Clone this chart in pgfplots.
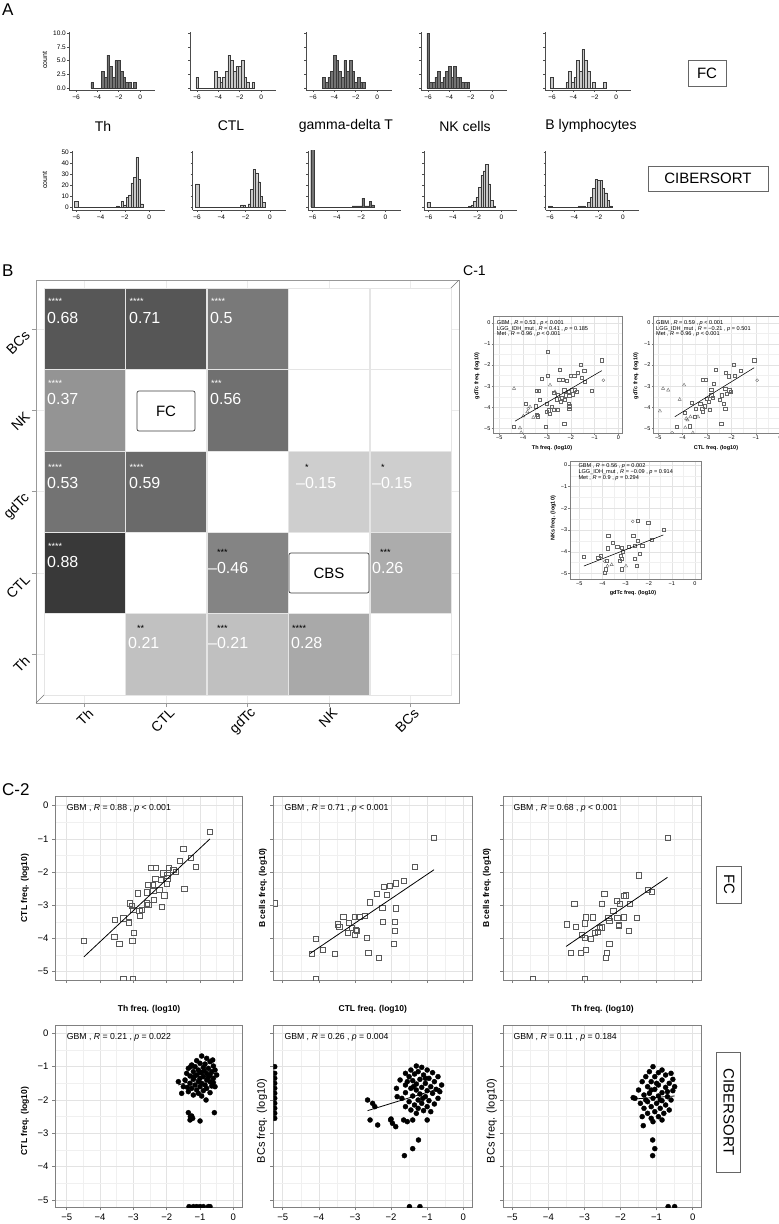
\documentclass[border=0pt]{standalone}
\usepackage{fontspec}
\setmainfont{Liberation Sans}
\usepackage{pgfplots}
\pgfplotsset{compat=1.18}
\newcommand{\fs}[1]{\fontsize{#1}{#1}\selectfont}
\definecolor{hdark}{HTML}{747474}
\definecolor{hlight}{HTML}{C9C9C9}
\definecolor{hedge}{HTML}{3A3A3A}
\pgfplotsset{
 hist/.style={scale only axis, anchor=north west, axis lines=left,
   axis line style={-, black!70, line width=0.6pt}, tick align=outside,
   major tick length=2pt, tick style={black!70, line width=0.5pt},
   xtick={-6,-4,-2,0}, xticklabels={−6,−4,−2,0},
   xticklabel style={font=\fs{6.5}, inner sep=1pt, yshift=-1.5pt},
   yticklabel style={font=\fs{6.5}, inner sep=1pt}, yticklabels={}},
 histA/.style={hist, width=86pt, height=58pt, xmin=-6.66, xmax=1.4, ymin=-0.35, ymax=10.2, ytick={0,2.5,5,7.5,10}},
 histB/.style={hist, width=93pt, height=59.3pt, xmin=-6.35, xmax=1.3, ymin=-2.7, ymax=51.2, ytick={0,10,20,30,40,50}},
 hbar/.style={ybar interval, draw=hedge, line width=0.45pt, mark=none},
 sc/.style={scale only axis, anchor=north west, axis line style={black!50, line width=0.8pt},
   tick align=outside, major tick length=3pt, tick style={black!50, line width=0.6pt}, tick pos=left,
   xtick={-5,-4,-3,-2,-1,0}, ytick={-5,-4,-3,-2,-1,0},
   minor xtick={-4.5,-3.5,-2.5,-1.5,-0.5}, minor ytick={-4.5,-3.5,-2.5,-1.5,-0.5},
   minor tick length=0pt, grid=both, major grid style={black!11, line width=0.5pt},
   minor grid style={black!6, line width=0.4pt}, xticklabels={}, yticklabels={},
   clip marker paths=true, ticklabel style={font=\fs{9.5}}},
 lab/.style={xticklabels={−5,−4,−3,−2,−1,0}},
 laby/.style={yticklabels={−5,−4,−3,−2,−1,0}},
 c1/.style={sc, axis line style={black!50, line width=0.5pt}, major tick length=1.6pt,
   tick style={black!50, line width=0.4pt}, ticklabel style={font=\fs{5.5}, inner sep=1pt},
   major grid style={black!11, line width=0.35pt}, minor grid style={black!6, line width=0.3pt},
   lab, laby},
 sq/.style={only marks, mark=square, mark size=2.6pt, mark options={draw=black!65, line width=0.6pt}},
 dot/.style={only marks, mark=*, mark size=2.5pt, mark options={draw=black, fill=black}},
 sqs/.style={only marks, mark=square, mark size=1.6pt, mark options={draw=black!60, line width=0.35pt}},
 tri/.style={only marks, mark=triangle, mark size=1.9pt, mark options={draw=black!60, line width=0.35pt}},
 cir/.style={only marks, mark=o, mark size=1.5pt, mark options={draw=black!60, line width=0.35pt}},
 reg/.style={black, line width=0.8pt, mark=none},
 regs/.style={black, line width=0.55pt, mark=none},
}
\begin{document}
\begin{tikzpicture}
\path[use as bounding box] (0,0) rectangle (779pt,-1224pt);
% ================= PANEL A =================
\node[anchor=north west, inner sep=0pt] at (2pt,-4pt) {\fs{17}A};
\node[rotate=90, font=\fs{7}] at (45pt,-60pt) {count};
\node[rotate=90, font=\fs{7}] at (45pt,-180pt) {count};
% row 1 (FC)
\begin{axis}[histA, at={(69pt,-32pt)}, yticklabels={0.0,2.5,5.0,7.5,10.0}]
\addplot[hbar, fill=hdark] coordinates {(-4.6,1) (-4.35,0) (-3.6,3) (-3.35,2) (-3.1,6) (-2.85,4) (-2.6,2) (-2.35,5) (-2.1,5) (-1.85,3) (-1.6,2) (-1.35,1) (-1.1,1) (-0.85,0) (-0.6,1) (-0.35,1)};
\end{axis}
\begin{axis}[histA, at={(190pt,-32pt)}]
\addplot[hbar, fill=hlight] coordinates {(-6.1,2) (-5.85,0) (-4.35,3) (-4.1,2) (-3.85,1) (-3.6,2) (-3.35,3) (-3.1,6) (-2.85,5) (-2.6,3) (-2.35,4) (-2.1,4) (-1.85,5) (-1.6,2) (-1.35,1) (-1.1,0) (-0.85,1) (-0.6,1)};
\end{axis}
\begin{axis}[histA, at={(306pt,-32pt)}]
\addplot[hbar, fill=hdark] coordinates {(-5.1,2) (-4.85,1) (-4.6,2) (-4.35,3) (-4.1,6) (-3.85,5) (-3.6,3) (-3.35,2) (-3.1,5) (-2.85,3) (-2.6,5) (-2.35,3) (-2.1,1) (-1.85,2) (-1.6,1) (-1.35,1) (-1.1,1)};
\end{axis}
\begin{axis}[histA, at={(421pt,-32pt)}]
\addplot[hbar, fill=hdark] coordinates {(-6.1,10) (-5.85,1) (-5.6,1) (-5.35,2) (-5.1,3) (-4.85,1) (-4.6,2) (-4.35,3) (-4.1,4) (-3.85,2) (-3.6,4) (-3.35,2) (-3.1,2) (-2.85,1) (-2.6,1) (-2.35,1) (-2.1,1)};
\end{axis}
\begin{axis}[histA, at={(545pt,-32pt)}]
\addplot[hbar, fill=hlight] coordinates {(-6.15,2) (-5.9,0) (-4.7,1) (-4.45,3) (-4.2,1) (-3.95,2) (-3.7,5) (-3.45,3) (-3.2,7) (-2.95,5) (-2.7,3) (-2.45,0) (-2.2,1) (-1.95,0) (-1.2,1) (-0.95,1)};
\end{axis}
\node[font=\fs{14}] at (103pt,-126pt) {Th};
\node[font=\fs{14}] at (231pt,-126pt) {CTL};
\node[font=\fs{14}] at (346pt,-126pt) {gamma-delta T};
\node[font=\fs{14}] at (465pt,-126pt) {NK cells};
\node[font=\fs{14}] at (591pt,-126pt) {B lymphocytes};
\node[draw=black!60, line width=0.6pt, minimum width=38pt, minimum height=26pt, inner sep=0pt] at (707pt,-73pt) {\fs{15}FC};
% row 2 (CIBERSORT)
\begin{axis}[histB, at={(72pt,-150.7pt)}, yticklabels={0,10,20,30,40,50}]
\addplot[hbar, fill=hlight] coordinates {(-6.15,5) (-5.85,0) (-2.7,1) (-2.5,0) (-2.3,5) (-2.1,2) (-1.9,9) (-1.7,11) (-1.5,22) (-1.3,27) (-1.1,45) (-0.9,25) (-0.7,3) (-0.5,3)};
\end{axis}
\begin{axis}[histB, at={(192.7pt,-150.7pt)}]
\addplot[hbar, fill=hlight] coordinates {(-6.15,21) (-5.85,0) (-2.4,2) (-2.2,2) (-2.0,0) (-1.8,3) (-1.6,16) (-1.4,34) (-1.2,31) (-1.0,23) (-0.8,10) (-0.6,4) (-0.4,4)};
\end{axis}
\begin{axis}[histB, at={(308.3pt,-150.7pt)}]
\addplot[hbar, fill=hdark] coordinates {(-6.15,60) (-5.85,0) (-2.75,1) (-2.55,1) (-2.35,1) (-2.15,1) (-1.95,8) (-1.75,1) (-1.55,1) (-1.35,5) (-1.15,2) (-0.95,2)};
\end{axis}
\begin{axis}[histB, at={(424.3pt,-150.7pt)}]
\addplot[hbar, fill=hlight] coordinates {(-6.15,4) (-5.85,0) (-2.7,1) (-2.5,2) (-2.3,5) (-2.1,9) (-1.9,18) (-1.7,29) (-1.5,33) (-1.3,39) (-1.1,21) (-0.9,6) (-0.7,1) (-0.5,1)};
\end{axis}
\begin{axis}[histB, at={(545.7pt,-150.7pt)}]
\addplot[hbar, fill=hlight] coordinates {(-6.15,1) (-5.85,0) (-3.7,1) (-3.5,1) (-3.3,1) (-3.1,0) (-2.9,4) (-2.7,9) (-2.5,17) (-2.3,25) (-2.1,24) (-1.9,24) (-1.7,17) (-1.5,13) (-1.3,6) (-1.1,1) (-0.9,1)};
\end{axis}
\node[draw=black!60, line width=0.6pt, minimum width=120pt, minimum height=25pt, inner sep=0pt] at (708pt,-178.5pt) {\fs{15}CIBERSORT};
% ================= PANEL B =================
\node[anchor=north west, inner sep=0pt] at (2pt,-265pt) {\fs{17}B};
\begin{axis}[at={(36pt,-280pt)}, anchor=north west, scale only axis, width=423pt, height=423pt,
 xmin=0.402, xmax=5.598, ymin=0.4, ymax=5.6,
 axis line style={black!40, line width=0.9pt},
 xtick={1,2,3,4,5}, ytick={1,2,3,4,5},
 xticklabels={Th,CTL,gdTc,NK,BCs}, yticklabels={Th,CTL,gdTc,NK,BCs},
 tick align=outside, major tick length=4pt, tick style={black!40, line width=0.6pt}, tick pos=left,
 xmajorgrids, ymajorgrids, grid style={black!8, line width=0.6pt},
 colormap={bw}{color=(white) color=(black)}, point meta min=0, point meta max=1,
 xticklabel style={font=\fs{14}, rotate=45, anchor=east, xshift=5pt, yshift=-7pt},
 yticklabel style={font=\fs{14}, rotate=45, anchor=east, xshift=-3pt}]
\addplot[scatter, only marks, mark=square*, mark size=40.6pt,
  scatter/use mapped color={draw=black!10, fill=mapped color}, point meta=explicit]
  table[meta=d] {
x y d
1 5 0.655
2 5 0.66
3 5 0.52
4 5 0
5 5 0
1 4 0.415
2 4 0
3 4 0.555
4 4 0
5 4 0
1 3 0.545
2 3 0.58
3 3 0
4 3 0.19
5 3 0.19
1 2 0.77
2 2 0
3 2 0.48
4 2 0
5 2 0.325
1 1 0
2 1 0.24
3 1 0.245
4 1 0.335
5 1 0
};
\addplot[black!55, line width=0.6pt] coordinates {(0.402,0.4) (5.598,5.6)};
\end{axis}
\begin{scope}[every node/.style={anchor=west, inner sep=0pt}]
\node[text=white, font=\fs{9}] at (48pt,-301pt) {****};
\node[text=white, font=\fs{16}] at (47pt,-318pt) {0.68};
\node[text=white, font=\fs{9}] at (129.5pt,-301pt) {****};
\node[text=white, font=\fs{16}] at (129pt,-318pt) {0.71};
\node[text=white, font=\fs{9}] at (211pt,-301pt) {****};
\node[text=white, font=\fs{16}] at (210pt,-318pt) {0.5};
\node[text=white, font=\fs{9}] at (48pt,-383pt) {****};
\node[text=white, font=\fs{16}] at (47pt,-399pt) {0.37};
\node[text=white, font=\fs{9}] at (211pt,-383pt) {***};
\node[text=white, font=\fs{16}] at (210pt,-399pt) {0.56};
\node[text=white, font=\fs{9}] at (48pt,-467pt) {****};
\node[text=white, font=\fs{16}] at (47pt,-483pt) {0.53};
\node[text=white, font=\fs{9}] at (129.5pt,-467pt) {****};
\node[text=white, font=\fs{16}] at (129pt,-483pt) {0.59};
\node[text=white, font=\fs{9}] at (48pt,-546.5pt) {****};
\node[text=white, font=\fs{16}] at (47pt,-562pt) {0.88};
\node[text=black, font=\fs{9}] at (305pt,-467pt) {*};
\node[text=white, font=\fs{16}] at (296pt,-483pt) {–0.15};
\node[text=black, font=\fs{9}] at (381pt,-467pt) {*};
\node[text=white, font=\fs{16}] at (372pt,-483pt) {–0.15};
\node[text=black, font=\fs{9}] at (217pt,-552pt) {***};
\node[text=white, font=\fs{16}] at (208pt,-568pt) {–0.46};
\node[text=black, font=\fs{9}] at (380pt,-552pt) {***};
\node[text=white, font=\fs{16}] at (372pt,-568pt) {0.26};
\node[text=black, font=\fs{9}] at (137pt,-628pt) {**};
\node[text=white, font=\fs{16}] at (128pt,-643pt) {0.21};
\node[text=black, font=\fs{9}] at (217pt,-628pt) {***};
\node[text=white, font=\fs{16}] at (208pt,-643pt) {–0.21};
\node[text=black, font=\fs{9}] at (292pt,-628pt) {****};
\node[text=white, font=\fs{16}] at (291pt,-643pt) {0.28};
\end{scope}
\node[draw=black!75, line width=0.7pt, rounded corners=2pt, fill=white, minimum width=58pt, minimum height=40pt, inner sep=0pt] at (166pt,-411pt) {\fs{15}FC};
\node[draw=black!75, line width=0.7pt, rounded corners=2pt, fill=white, minimum width=80pt, minimum height=40pt, inner sep=0pt] at (329pt,-573pt) {\fs{15}CBS};
% ================= PANEL C-1 =================
\node[anchor=north west, inner sep=0pt] at (463pt,-266pt) {\fs{14}C-1};
\begin{axis}[c1, at={(493.3pt,-316pt)}, width=129.4pt, height=117pt, xmin=-5.25, xmax=0.18, ymin=-5.22, ymax=0.32]
\addplot[sqs] coordinates {(-2.97,-1.37) (-0.70,-1.77) (-1.58,-2.00) (-1.44,-2.27) (-1.99,-2.51) (-1.86,-2.51) (-1.71,-2.35) (-1.54,-2.60) (-1.40,-2.80) (-2.48,-2.24) (-2.97,-2.51) (-3.22,-2.64) (-2.49,-2.68) (-2.34,-2.68) (-2.17,-2.76) (-3.36,-3.22) (-3.43,-3.22) (-2.28,-3.19) (-2.10,-3.27) (-1.96,-3.19) (-1.82,-3.16) (-1.75,-3.27) (-1.12,-3.22) (-2.73,-3.32) (-2.56,-3.43) (-2.38,-3.54) (-2.21,-3.43) (-2.07,-3.47) (-1.92,-3.38) (-3.29,-3.63) (-2.59,-3.62) (-2.41,-3.74) (-2.24,-3.66) (-2.10,-3.82) (-2.07,-3.95) (-3.88,-3.82) (-3.46,-3.95) (-3.01,-3.82) (-2.80,-3.98) (-2.70,-4.10) (-2.56,-4.10) (-2.94,-4.14) (-2.87,-4.30) (-3.01,-4.22) (-2.07,-4.06) (-3.43,-4.37) (-3.38,-4.42) (-2.28,-4.77) (-3.04,-4.93) (-4.38,-4.93)};
\addplot[tri] coordinates {(-4.38,-3.11) (-2.87,-2.95) (-2.66,-3.27) (-3.71,-3.98) (-3.57,-4.48) (-3.99,-4.42) (-4.13,-4.98) (-4.08,-5.20) (-3.82,-4.22)};
\addplot[cir] coordinates {(-0.63,-2.72) (-3.78,-4.06)};
\addplot[regs] coordinates {(-4.34,-4.66) (-0.70,-2.27)};
\end{axis}
\begin{axis}[c1, at={(653.3pt,-316pt)}, width=129.4pt, height=117pt, xmin=-5.2, xmax=0.1, ymin=-5.22, ymax=0.32]
\addplot[sqs] coordinates {(-1.07,-1.77) (-1.92,-2.00) (-1.61,-2.27) (-2.22,-2.35) (-2.11,-2.53) (-1.88,-2.51) (-2.63,-2.21) (-3.17,-2.68) (-3.06,-2.68) (-2.72,-2.87) (-2.83,-3.16) (-2.26,-3.11) (-2.09,-3.19) (-2.20,-3.35) (-2.02,-3.27) (-2.83,-3.43) (-2.76,-3.55) (-3.03,-3.58) (-2.93,-3.74) (-2.40,-3.43) (-2.49,-3.63) (-2.33,-3.82) (-2.26,-4.06) (-2.42,-4.77) (-3.28,-3.82) (-3.20,-4.06) (-3.17,-4.22) (-3.10,-3.95) (-3.62,-3.79) (-3.47,-4.06) (-2.90,-4.10) (-3.91,-4.27) (-3.51,-4.45) (-4.25,-4.93) (-3.71,-4.90) (-5.22,-2.45) (-5.22,-2.60)};
\addplot[tri] coordinates {(-4.80,-3.11) (-4.59,-3.19) (-3.94,-2.95) (-4.12,-3.63) (-4.93,-4.18) (-3.68,-4.45) (-3.85,-4.53) (-3.37,-4.45) (-3.89,-4.96) (-3.58,-5.21) (-3.80,-4.60)};
\addplot[cir] coordinates {(-0.95,-2.72) (-4.43,-5.21)};
\addplot[regs] coordinates {(-4.32,-4.45) (-1.07,-2.13)};
\end{axis}
\begin{axis}[c1, at={(570pt,-461pt)}, width=131.7pt, height=117.8pt, xmin=-5.4, xmax=0.29, ymin=-5.25, ymax=0.18]
\addplot[sqs] coordinates {(-1.37,-2.97) (-2.02,-2.66) (-2.49,-2.57) (-2.67,-3.28) (-2.49,-3.49) (-2.59,-3.72) (-2.28,-3.72) (-2.38,-4.08) (-2.59,-4.31) (-2.53,-4.66) (-3.75,-3.28) (-3.57,-3.59) (-3.36,-3.77) (-3.17,-3.80) (-3.13,-4.00) (-3.20,-4.20) (-3.17,-4.31) (-2.88,-3.77) (-3.78,-3.84) (-3.24,-4.41) (-3.17,-4.81) (-4.18,-4.26) (-4.08,-4.20) (-3.82,-4.41) (-3.86,-4.81) (-3.89,-4.97) (-4.80,-4.23) (-1.87,-3.43) (-4.97,-5.27) (-4.46,-5.27) (-3.89,-5.27) (-3.70,-5.27) (-3.24,-5.27) (-2.78,-5.27) (-2.59,-5.27) (-2.23,-5.27)};
\addplot[tri] coordinates {(-3.78,-4.66) (-3.60,-4.60) (-2.98,-4.66)};
\addplot[cir] coordinates {(-2.69,-2.60) (-3.90,-4.45)};
\addplot[regs] coordinates {(-4.80,-4.66) (-1.37,-3.23)};
\end{axis}
\begin{scope}[every node/.style={anchor=west, inner sep=0pt, font=\fs{5.6}}]
\node at (496.7pt,-323pt) {GBM , \textit{R} = 0.53 , \textit{p} < 0.001};
\node at (496.7pt,-328.8pt) {LGG\_IDH\_mut , \textit{R} = 0.41 , \textit{p} = 0.185};
\node at (496.7pt,-334.6pt) {Met , \textit{R} = 0.96 , \textit{p} < 0.001};
\node at (656pt,-323pt) {GBM , \textit{R} = 0.59 , \textit{p} < 0.001};
\node at (656pt,-328.8pt) {LGG\_IDH\_mut , \textit{R} = −0.21 , \textit{p} = 0.501};
\node at (656pt,-334.6pt) {Met , \textit{R} = 0.96 , \textit{p} < 0.001};
\node at (578.3pt,-466.5pt) {GBM , \textit{R} = 0.56 , \textit{p} = 0.002};
\node at (578.3pt,-472.3pt) {LGG\_IDH\_mut , \textit{R} = −0.09 , \textit{p} = 0.914};
\node at (578.3pt,-478.1pt) {Met , \textit{R} = 0.9 , \textit{p} = 0.294};
\end{scope}
\begin{scope}[every node/.style={inner sep=0pt, font=\bfseries\fs{5.5}}]
\node at (552pt,-448pt) {Th freq. (log10)};
\node at (716pt,-448pt) {CTL freq. (log10)};
\node at (633pt,-592.7pt) {gdTc freq. (log10)};
\node[rotate=90] at (477pt,-376pt) {gdTc freq. (log10)};
\node[rotate=90] at (636pt,-376pt) {gdTc freq. (log10)};
\node[rotate=90] at (553.3pt,-518.3pt) {NKs freq. (log10)};
\end{scope}
% ================= PANEL C-2 =================
\node[anchor=north west, inner sep=0pt] at (2pt,-783pt) {\fs{17}C-2};
% row 1
\begin{axis}[sc, laby, at={(55pt,-796pt)}, width=187.7pt, height=184pt, xmin=-5.35, xmax=0.28, ymin=-5.25, ymax=0.29]
\addplot[sq] coordinates {(-0.70,-0.78) (-1.50,-1.31) (-1.27,-1.58) (-1.13,-1.84) (-1.60,-1.66) (-1.47,-2.51) (-2.48,-1.86) (-2.32,-1.88) (-1.94,-1.86) (-1.80,-1.92) (-2.10,-2.04) (-1.73,-2.00) (-2.34,-2.20) (-2.17,-2.24) (-1.98,-2.19) (-1.98,-2.10) (-2.55,-2.39) (-2.42,-2.39) (-2.00,-2.36) (-2.22,-2.54) (-2.86,-2.64) (-2.60,-2.61) (-2.40,-2.56) (-2.07,-2.70) (-2.38,-2.84) (-2.60,-2.94) (-3.10,-2.94) (-3.04,-3.02) (-3.00,-3.14) (-2.82,-3.16) (-2.55,-2.99) (-2.15,-3.04) (-2.75,-3.14) (-2.80,-3.32) (-3.55,-3.44) (-3.30,-3.39) (-3.14,-3.52) (-4.48,-4.07) (-3.57,-3.95) (-3.42,-4.17) (-3.03,-4.07) (-2.98,-3.84) (-3.13,-3.51) (-3.30,-5.23) (-3.02,-5.23)};
\addplot[reg] coordinates {(-4.48,-4.55) (-0.70,-1.00)};
\end{axis}
\begin{axis}[sc, at={(273.3pt,-796pt)}, width=199pt, height=184pt, xmin=-5.26, xmax=0.25, ymin=-5.25, ymax=0.29]
\addplot[sq] coordinates {(-0.81,-0.98) (-1.34,-1.84) (-1.64,-2.27) (-1.87,-2.34) (-2.19,-2.44) (-2.03,-2.42) (-2.40,-2.66) (-2.12,-2.68) (-2.58,-2.91) (-2.24,-3.08) (-1.87,-3.09) (-1.89,-3.49) (-2.72,-3.31) (-3.00,-3.34) (-2.88,-3.35) (-3.32,-3.35) (-3.18,-3.52) (-3.48,-3.57) (-3.43,-3.64) (-3.09,-3.69) (-2.95,-3.77) (-3.19,-3.84) (-2.67,-3.97) (-5.23,-2.94) (-3.00,-3.89) (-2.97,-3.74) (-2.63,-4.43) (-2.35,-4.57) (-2.23,-3.49) (-4.08,-4.01) (-3.88,-4.35) (-4.20,-4.47) (-3.55,-4.47) (-4.08,-5.23) (-1.89,-3.77) (-1.92,-4.17)};
\addplot[reg] coordinates {(-4.24,-4.45) (-0.81,-1.93)};
\end{axis}
\begin{axis}[sc, at={(503.3pt,-796pt)}, width=198.4pt, height=184pt, xmin=-5.25, xmax=0.25, ymin=-5.25, ymax=0.29]
\addplot[sq] coordinates {(-0.70,-0.98) (-1.49,-2.10) (-1.25,-2.54) (-1.14,-2.60) (-2.45,-2.66) (-2.11,-2.86) (-1.90,-2.72) (-1.85,-2.70) (-2.01,-2.96) (-1.74,-2.96) (-3.28,-2.96) (-2.52,-2.96) (-2.97,-3.36) (-2.78,-3.36) (-2.34,-3.38) (-2.09,-3.38) (-1.92,-3.36) (-1.54,-3.37) (-2.20,-3.17) (-2.31,-3.47) (-2.98,-3.54) (-3.49,-3.57) (-3.23,-3.64) (-2.57,-3.69) (-2.05,-3.61) (-1.78,-3.76) (-3.08,-3.89) (-2.98,-3.99) (-2.83,-4.01) (-2.71,-3.84) (-2.62,-3.79) (-2.52,-3.66) (-2.31,-4.17) (-2.04,-3.59) (-1.77,-3.77) (-3.37,-4.44) (-3.10,-4.44) (-2.96,-4.35) (-2.37,-4.44) (-2.41,-4.57) (-4.43,-5.23) (-2.98,-5.23)};
\addplot[reg] coordinates {(-3.51,-4.24) (-0.70,-2.16)};
\end{axis}
% row 2
\begin{axis}[sc, lab, laby, at={(55pt,-1025pt)}, width=187.7pt, height=182.3pt, xmin=-5.35, xmax=0.28, ymin=-5.22, ymax=0.25]
\addplot[dot] coordinates {(-0.95,-0.68) (-0.80,-0.75) (-1.10,-0.82) (-0.70,-0.85) (-1.25,-0.95) (-1.00,-0.90) (-0.85,-0.92) (-0.60,-0.98) (-1.15,-1.00) (-0.90,-1.02) (-0.75,-1.05) (-1.35,-1.05) (-1.05,-1.10) (-0.55,-1.10) (-0.65,-1.15) (-1.20,-1.15) (-0.95,-1.18) (-0.80,-1.20) (-1.40,-1.20) (-1.10,-1.25) (-0.70,-1.25) (-1.30,-1.28) (-0.90,-1.30) (-1.00,-1.35) (-0.60,-1.35) (-1.20,-1.38) (-0.80,-1.40) (-1.45,-1.40) (-1.05,-1.45) (-0.70,-1.45) (-0.95,-1.50) (-1.30,-1.50) (-0.85,-1.55) (-1.15,-1.55) (-0.65,-1.58) (-1.00,-1.60) (-1.25,-1.65) (-0.80,-1.65) (-0.55,-1.60) (-1.10,-1.70) (-0.90,-1.72) (-1.35,-1.75) (-0.70,-1.78) (-1.05,-1.80) (-1.55,-1.80) (-1.20,-1.85) (-0.95,-1.88) (-1.65,-1.45) (-1.50,-1.60) (-0.50,-1.25) (-0.88,-1.12) (-1.18,-1.30) (-0.75,-1.32) (-1.38,-1.62) (-0.60,-1.48) (-0.82,-2.00) (-1.28,-1.00) (-1.00,-1.18) (-0.62,-0.80) (-1.35,-2.38) (-1.29,-2.50) (-1.22,-2.55) (-1.30,-2.60) (-1.00,-2.63) (-0.57,-2.38) (-1.25,-2.48) (-1.33,-5.20) (-1.20,-5.20) (-1.10,-5.20) (-1.00,-5.20) (-0.90,-5.20) (-0.75,-5.20) (-0.70,-5.20)};
\addplot[reg] coordinates {(-1.65,-1.55) (-0.55,-1.20)};
\end{axis}
\begin{axis}[sc, lab, at={(273.3pt,-1025pt)}, width=199pt, height=182.3pt, xmin=-5.26, xmax=0.25, ymin=-5.22, ymax=0.25]
\addplot[dot] coordinates {(-1.30,-0.98) (-1.15,-1.02) (-1.45,-1.10) (-1.00,-1.10) (-1.25,-1.15) (-0.85,-1.18) (-1.60,-1.20) (-1.35,-1.22) (-1.10,-1.25) (-0.70,-1.30) (-1.50,-1.30) (-0.95,-1.35) (-1.20,-1.38) (-1.75,-1.40) (-1.40,-1.42) (-0.80,-1.45) (-1.05,-1.50) (-1.30,-1.52) (-1.60,-1.55) (-0.60,-1.55) (-0.90,-1.60) (-1.15,-1.62) (-1.45,-1.65) (-1.85,-1.65) (-0.75,-1.68) (-1.30,-1.70) (-1.00,-1.72) (-1.60,-1.78) (-1.20,-1.82) (-0.85,-1.80) (-1.40,-1.88) (-1.05,-1.90) (-1.70,-1.95) (-0.70,-1.95) (-1.25,-2.00) (-0.95,-2.02) (-1.50,-2.05) (-1.15,-2.10) (-1.35,-2.15) (-0.80,-2.12) (-1.00,-2.20) (-1.60,-2.20) (-1.25,-2.25) (-1.45,-2.30) (-1.10,-2.32) (-0.90,-2.35) (-1.30,-2.40) (-1.05,-1.35) (-1.55,-1.45) (-0.65,-1.75) (-1.38,-1.60) (-1.12,-1.95) (-2.65,-2.00) (-2.51,-2.10) (-2.45,-2.20) (-2.58,-2.60) (-2.37,-2.75) (-2.01,-2.60) (-1.87,-2.80) (-1.83,-1.90) (-2.00,-2.57) (-1.96,-2.70) (-1.65,-2.60) (-1.55,-2.65) (-1.40,-2.60) (-1.00,-2.60) (-1.24,-3.20) (-1.40,-3.46) (-1.63,-3.67) (-5.22,-1.00) (-5.22,-1.20) (-5.22,-1.35) (-5.22,-1.50) (-5.22,-1.65) (-5.22,-1.80) (-5.22,-1.95) (-5.22,-2.10) (-5.22,-2.25) (-5.22,-2.40) (-5.22,-2.55) (-1.49,-5.20) (-1.20,-5.20)};
\addplot[reg] coordinates {(-2.65,-2.32) (-0.64,-1.65)};
\end{axis}
\begin{axis}[sc, lab, at={(503.3pt,-1025pt)}, width=198.4pt, height=182.3pt, xmin=-5.25, xmax=0.25, ymin=-5.22, ymax=0.25]
\addplot[dot] coordinates {(-1.10,-1.00) (-0.85,-1.10) (-0.60,-1.20) (-1.20,-1.15) (-0.95,-1.18) (-0.75,-1.25) (-1.30,-1.30) (-1.05,-1.30) (-0.55,-1.38) (-0.85,-1.40) (-1.15,-1.45) (-1.40,-1.45) (-0.65,-1.50) (-0.95,-1.55) (-1.25,-1.60) (-0.75,-1.62) (-1.05,-1.68) (-1.50,-1.70) (-0.55,-1.72) (-0.85,-1.78) (-1.20,-1.80) (-1.35,-1.85) (-0.95,-1.88) (-0.70,-1.90) (-1.10,-1.95) (-1.60,-1.95) (-0.60,-2.00) (-0.85,-2.02) (-1.25,-2.05) (-1.00,-2.10) (-1.45,-2.10) (-0.75,-2.15) (-1.15,-2.20) (-0.90,-2.25) (-1.35,-2.25) (-0.65,-2.30) (-1.05,-2.35) (-1.25,-2.40) (-0.80,-2.40) (-1.15,-2.55) (-0.95,-2.50) (-1.40,-2.50) (-1.10,-2.65) (-0.85,-2.60) (-1.37,-2.77) (-1.00,-1.50) (-0.70,-1.75) (-1.30,-2.00) (-0.90,-2.00) (-1.15,-1.70) (-0.50,-1.60) (-1.11,-3.20) (-1.05,-3.46) (-1.11,-3.67) (-1.65,-1.93) (-0.68,-5.20) (-0.50,-5.20)};
\addplot[reg] coordinates {(-1.62,-1.97) (-0.50,-1.88)};
\end{axis}
\node[font=\fs{8.7}, anchor=west, inner sep=0pt] at (66.7pt,-808.3pt) {GBM , \textit{R} = 0.88 , \textit{p} < 0.001};
\node[font=\fs{8.7}, anchor=west, inner sep=0pt] at (284.3pt,-808.3pt) {GBM , \textit{R} = 0.71 , \textit{p} < 0.001};
\node[font=\fs{8.7}, anchor=west, inner sep=0pt] at (513.3pt,-808.3pt) {GBM , \textit{R} = 0.68 , \textit{p} < 0.001};
\node[font=\fs{8.7}, anchor=west, inner sep=0pt] at (66.7pt,-1037.3pt) {GBM , \textit{R} = 0.21 , \textit{p} = 0.022};
\node[font=\fs{8.7}, anchor=west, inner sep=0pt] at (284.3pt,-1037.3pt) {GBM , \textit{R} = 0.26 , \textit{p} = 0.004};
\node[font=\fs{8.7}, anchor=west, inner sep=0pt] at (513.3pt,-1037.3pt) {GBM , \textit{R} = 0.11 , \textit{p} = 0.184};
\node[font=\bfseries\fs{8.5}] at (149pt,-1009pt) {Th freq. (log10)};
\node[font=\bfseries\fs{8.5}] at (372.8pt,-1009pt) {CTL freq. (log10)};
\node[font=\bfseries\fs{8.5}] at (602.5pt,-1009pt) {Th freq. (log10)};
\node[rotate=90, font=\bfseries\fs{8.5}] at (25pt,-888pt) {CTL freq. (log10)};
\node[rotate=90, font=\bfseries\fs{8.5}] at (263pt,-888pt) {B cells freq. (log10)};
\node[rotate=90, font=\bfseries\fs{8.5}] at (487pt,-888pt) {B cells freq. (log10)};
\node[rotate=90, font=\bfseries\fs{8.5}] at (25pt,-1121pt) {CTL freq. (log10)};
\node[rotate=90, font=\fs{11}] at (262pt,-1121pt) {BCs freq. (log10)};
\node[rotate=90, font=\fs{11}] at (491.7pt,-1121pt) {BCs freq. (log10)};
\node[draw=black!60, line width=0.6pt, minimum width=37.3pt, minimum height=25pt, inner sep=0pt, rotate=-90] at (729.2pt,-884.7pt) {\fs{15}FC};
\node[draw=black!60, line width=0.6pt, minimum width=119.6pt, minimum height=24pt, inner sep=0pt, rotate=-90] at (728.7pt,-1112.5pt) {\fs{15}CIBERSORT};
\end{tikzpicture}
\end{document}
